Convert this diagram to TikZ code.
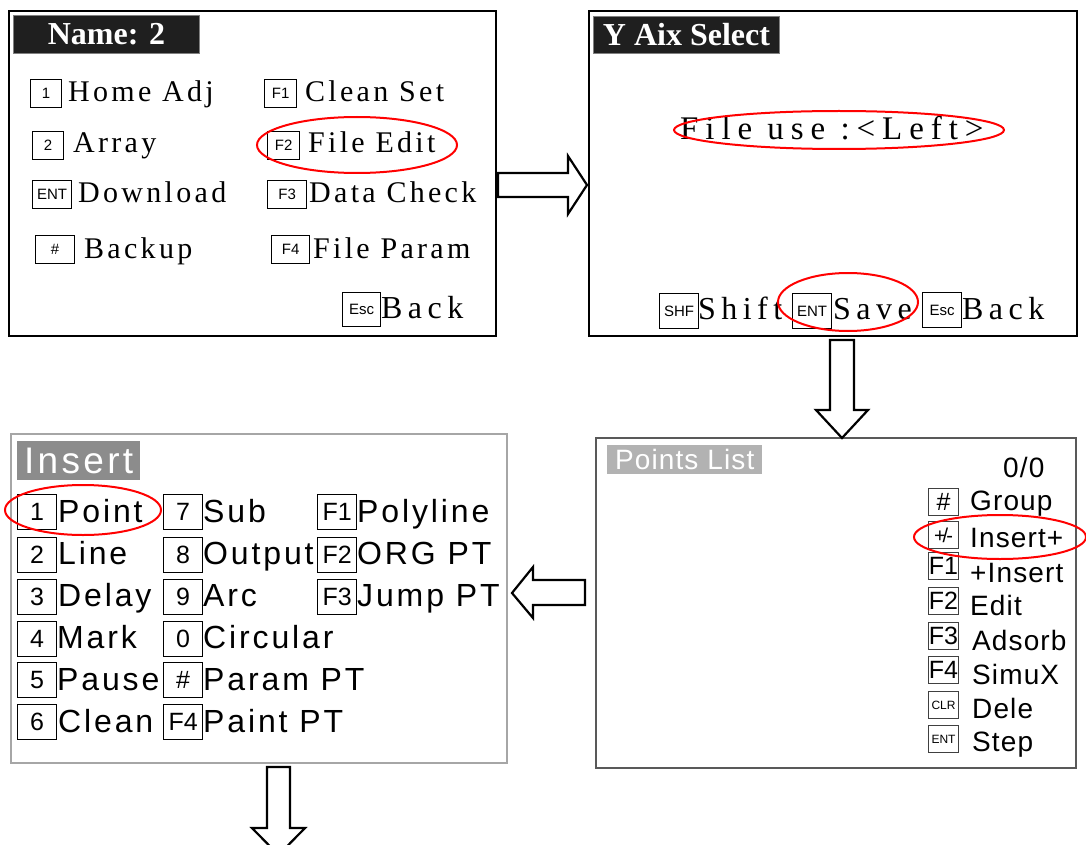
\documentclass[tikz,border=0pt]{standalone}
\usepackage{fontspec}
\setmainfont{Liberation Serif}
\setsansfont{Liberation Sans}
\newfontfamily\lcdserif[LetterSpace=11]{Liberation Serif}
\newfontfamily\lcdwide[LetterSpace=17]{Liberation Serif}
\newfontfamily\lcdwider[LetterSpace=21]{Liberation Serif}
\newfontfamily\lcdsans[LetterSpace=9]{Liberation Sans}
\newfontfamily\lcdlist[LetterSpace=4]{Liberation Sans}

\tikzset{
  panel/.style={draw, line width=1.8pt, anchor=north west, inner sep=0pt},
  title/.style={fill=black!88, draw=gray, line width=1pt, text=white, anchor=north west,
    inner sep=0pt, font=\bfseries\fontsize{32}{32}\selectfont},
  grayttl/.style={anchor=north west, inner sep=0pt, text=white},
  keycap/.style={draw, line width=1.2pt, anchor=north west, inner sep=0pt,
    minimum height=28pt, font=\sffamily\fontsize{15}{15}\selectfont},
  bigcap/.style={keycap, minimum width=39pt, minimum height=35pt,
    font=\sffamily\fontsize{25}{25}\selectfont},
  listcap/.style={keycap, draw=black!75, line width=1pt, minimum width=30pt,
    minimum height=27pt, font=\sffamily\fontsize{25}{25}\selectfont},
  menu/.style={anchor=base west, inner sep=0pt, font=\lcdserif\fontsize{30}{30}\selectfont},
  wide/.style={anchor=base west, inner sep=0pt, font=\lcdwide\fontsize{32}{32}\selectfont},
  item/.style={anchor=base west, inner sep=0pt, font=\lcdsans\fontsize{32}{32}\selectfont},
  listitem/.style={anchor=base west, inner sep=0pt, font=\lcdlist\fontsize{28}{28}\selectfont},
  ring/.style={draw=red, line width=2pt},
  fatarrow/.style={draw, fill=white, line width=2.2pt, line join=miter}
}

\begin{document}
\begin{tikzpicture}[x=1pt, y=-1pt]
  \fill[white] (0,0) rectangle (1086,845);
  \useasboundingbox (0,0) rectangle (1086,845);

  % screen: Name
  \node[panel, minimum width=487pt, minimum height=325pt] (NM) at (8,10) {};
  \node[title, minimum width=186pt, minimum height=38pt] (NMt) at (13,15) {Name: 2};
  \node[keycap, minimum width=31pt] (K1) at (30,79) {1};
  \node[menu] (L1) at (68,102) {Home Adj};
  \node[keycap, minimum width=32pt] (KF1) at (264,79) {F1};
  \node[menu] (LF1) at (305,102) {Clean Set};
  \node[keycap, minimum width=31pt] (K2) at (32,131) {2};
  \node[menu] (L2) at (73,153) {Array};
  \node[keycap, minimum width=32pt] (KF2) at (267,131) {F2};
  \node[menu] (LF2) at (308,153) {File Edit};
  \node[keycap, minimum width=39pt] (KENT) at (32,180) {ENT};
  \node[menu] (LENT) at (78,202) {Download};
  \node[keycap, minimum width=39pt] (KF3) at (267,180) {F3};
  \node[menu] (LF3) at (309,202) {Data Check};
  \node[keycap, minimum width=39pt] (KH) at (35,235) {\#};
  \node[menu] (LH) at (84,258) {Backup};
  \node[keycap, minimum width=38pt] (KF4) at (271,235) {F4};
  \node[menu] (LF4) at (313,258) {File Param};
  \node[keycap, minimum width=38pt, minimum height=34pt] (KESC) at (342,292) {Esc};
  \node[wide] (LESC) at (381,318) {Back};
  \draw[ring] (357,145) ellipse [x radius=100, y radius=28];

  % screen: Y Aix Select
  \node[panel, minimum width=488pt, minimum height=325pt] (YS) at (588,10) {};
  \node[title, minimum width=186pt, minimum height=37pt] (YSt) at (593,16) {Y Aix Select};
  \node[wide, font=\lcdwider\fontsize{33}{33}\selectfont] (FU) at (680,140) {File use :<Left>};
  \node[keycap, minimum width=39pt, minimum height=35pt] (KSHF) at (659,293) {SHF};
  \node[wide] (LSHF) at (698,319) {Shift};
  \node[keycap, minimum width=39pt, minimum height=35pt] (KENT2) at (792,293) {ENT};
  \node[wide] (LENT2) at (833,319) {Save};
  \node[keycap, minimum width=39pt, minimum height=35pt] (KESC2) at (922,292) {Esc};
  \node[wide] (LESC2) at (962,319) {Back};
  \draw[ring] (839,130) ellipse [x radius=165, y radius=19];
  \draw[ring] (848,302) ellipse [x radius=70, y radius=29];

  % screen: Points List
  \node[panel, draw=black!65, line width=1.5pt, minimum width=480pt, minimum height=330pt] (PL) at (595,437) {};
  \node[grayttl, fill=black!30, minimum width=155pt, minimum height=29pt,
    font=\lcdlist\fontsize{28}{28}\selectfont] (PLt) at (607,445) {Points List};
  \node[listitem] (CNT) at (1003,477) {0/0};
  \node[listcap] (PK1) at (928,488) {\#};
  \node[listitem] (PL1) at (970,510) {Group};
  \node[listcap, font=\sffamily\fontsize{20}{20}\selectfont] (PK2) at (928,521) {+\kern-3pt/\kern-2pt-};
  \node[listitem] (PL2) at (970,547) {Insert+};
  \node[listcap] (PK3) at (928,552) {F1};
  \node[listitem] (PL3) at (970,582) {+Insert};
  \node[listcap] (PK4) at (928,587) {F2};
  \node[listitem] (PL4) at (970,615) {Edit};
  \node[listcap] (PK5) at (928,622) {F3};
  \node[listitem] (PL5) at (972,650) {Adsorb};
  \node[listcap] (PK6) at (928,656) {F4};
  \node[listitem] (PL6) at (972,684) {SimuX};
  \node[listcap, font=\sffamily\fontsize{12}{12}\selectfont] (PK7) at (928,691) {CLR};
  \node[listitem] (PL7) at (972,718) {Dele};
  \node[listcap, font=\sffamily\fontsize{12}{12}\selectfont] (PK8) at (928,725) {ENT};
  \node[listitem] (PL8) at (972,751) {Step};
  \draw[ring] (1000,537) ellipse [x radius=86, y radius=22];

  % screen: Insert
  \node[panel, draw=black!35, line width=1.5pt, minimum width=496pt, minimum height=329pt] (IN) at (10,433) {};
  \node[grayttl, fill=black!45, minimum width=123pt, minimum height=39pt,
    font=\lcdsans\fontsize{37}{37}\selectfont] (INt) at (17,441) {Insert};
  \node[bigcap] (I1) at (17,494) {1};
  \node[item] (IL1) at (58,522) {Point};
  \node[bigcap] (I2) at (17,537) {2};
  \node[item] (IL2) at (58,564) {Line};
  \node[bigcap] (I3) at (17,579) {3};
  \node[item] (IL3) at (58,606) {Delay};
  \node[bigcap] (I4) at (17,621) {4};
  \node[item] (IL4) at (57,648) {Mark};
  \node[bigcap] (I5) at (17,662) {5};
  \node[item] (IL5) at (57,690) {Pause};
  \node[bigcap] (I6) at (17,704) {6};
  \node[item] (IL6) at (58,732) {Clean};
  \node[bigcap] (I7) at (163,494) {7};
  \node[item] (IL7) at (203,522) {Sub};
  \node[bigcap] (I8) at (163,537) {8};
  \node[item] (IL8) at (203,564) {Output};
  \node[bigcap] (I9) at (163,579) {9};
  \node[item] (IL9) at (203,606) {Arc};
  \node[bigcap] (I0) at (163,621) {0};
  \node[item] (IL0) at (203,648) {Circular};
  \node[bigcap] (IH) at (163,662) {\#};
  \node[item] (ILH) at (203,690) {Param PT};
  \node[bigcap] (IF4) at (163,704) {F4};
  \node[item] (ILF4) at (203,732) {Paint PT};
  \node[bigcap] (IF1) at (317,494) {F1};
  \node[item] (ILF1) at (357,522) {Polyline};
  \node[bigcap] (IF2) at (317,537) {F2};
  \node[item] (ILF2) at (357,564) {ORG PT};
  \node[bigcap] (IF3) at (317,579) {F3};
  \node[item] (ILF3) at (357,606) {Jump PT};
  \draw[ring] (83,510) ellipse [x radius=78, y radius=25];

  % block arrows between the screens
  \draw[fatarrow] (498,173) -- (568,173) -- (568,156) -- (587,185) -- (568,214) -- (568,197) -- (498,197) -- cycle;
  \draw[fatarrow] (830,340) -- (854,340) -- (854,410) -- (868,410) -- (842,438) -- (816,410) -- (830,410) -- cycle;
  \draw[fatarrow] (585,580) -- (533,580) -- (533,567) -- (512,593) -- (533,618) -- (533,605) -- (585,605) -- cycle;
  \draw[fatarrow] (267,767) -- (290,767) -- (290,828) -- (305,828) -- (278.5,855) -- (252,828) -- (267,828) -- cycle;
\end{tikzpicture}
\end{document}
